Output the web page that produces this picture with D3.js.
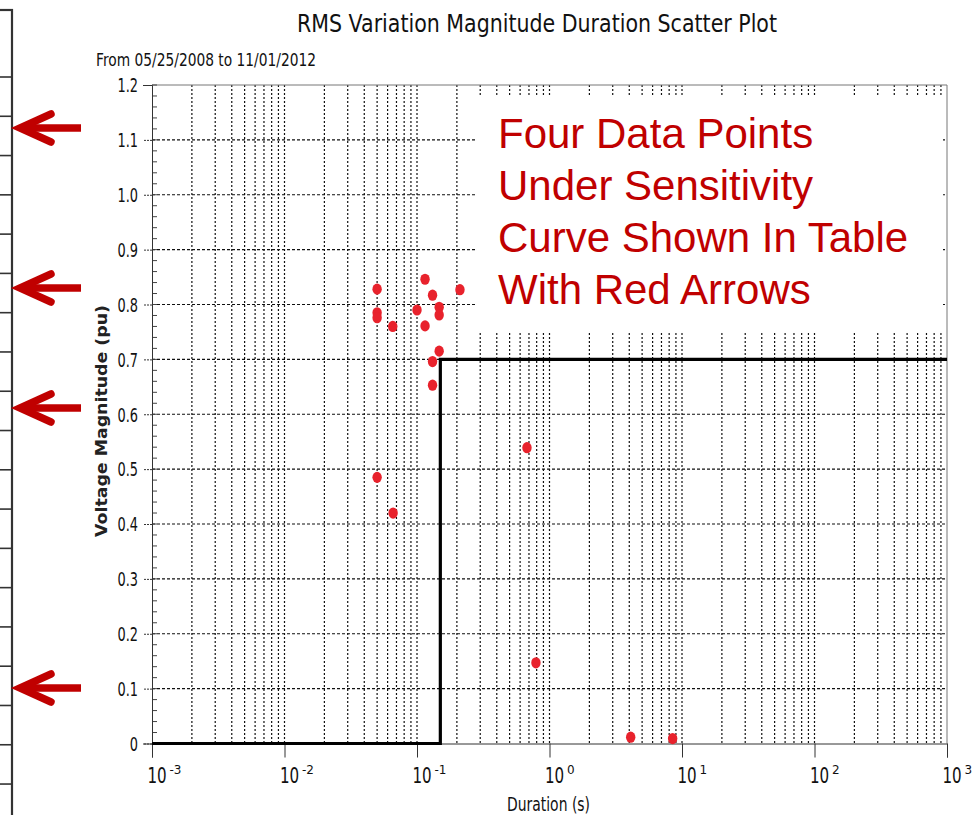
<!DOCTYPE html>
<html><head><meta charset="utf-8">
<script src="https://cdn.jsdelivr.net/npm/d3@7/dist/d3.min.js"></script>
<style>body{margin:0;background:#fff}svg{display:block}</style>
</head><body>
<svg id="c" width="979" height="815"></svg>
<script>
// ---- data ----
const durations  = [0.05, 0.115, 0.131, 0.211, 0.05, 0.05, 0.1, 0.147, 0.147, 0.0656, 0.115, 0.147, 0.131, 0.131, 0.05, 0.066, 0.676, 0.79, 4.1, 8.5];
const magnitudes = [0.828, 0.846, 0.817, 0.827, 0.785, 0.776, 0.79, 0.795, 0.781, 0.760, 0.761, 0.715, 0.696, 0.653, 0.485, 0.420, 0.539, 0.147, 0.0115, 0.009];
const curveDurations  = [0.001, 0.15, 0.15, 1000];
const curveMagnitudes = [0, 0, 0.7, 0.7];
const yTickValues = [0, 0.1, 0.2, 0.3, 0.4, 0.5, 0.6, 0.7, 0.8, 0.9, 1.0, 1.1, 1.2];
const yTickLabels = ["0", "0.1", "0.2", "0.3", "0.4", "0.5", "0.6", "0.7", "0.8", "0.9", "1.0", "1.1", "1.2"];
const xTickExponents = [-3, -2, -1, 0, 1, 2, 3];
const titleText = "RMS Variation Magnitude Duration Scatter Plot";
const subtitleText = "From 05/25/2008 to 11/01/2012";
const xLabel = "Duration (s)";
const yLabel = "Voltage Magnitude (pu)";
const noteLines = ["Four Data Points", "Under Sensitivity", "Curve Shown In Table", "With Red Arrows"];

// ---- drawing ----
const svg = d3.select("#c");
const FONT = "'DejaVu Sans', sans-serif";
const L = 152, R = 947, T = 85, B = 743.5;
const x = d3.scaleLog().domain([1e-3, 1e3]).range([L, R]);
const y = d3.scaleLinear().domain([0, 1.2]).range([B, T]);

// left table remnant
const tbl = svg.append("g").attr("stroke", "#333");
tbl.append("line").attr("x1", 12).attr("x2", 12).attr("y1", 9).attr("y2", 815).attr("stroke-width", 2.2);
tbl.append("line").attr("x1", 0).attr("x2", 13).attr("y1", 10).attr("y2", 10).attr("stroke-width", 2.2);
for (let i = 0; i < 19; i++) {
  const yy = 77 + i * 39.28;
  tbl.append("line").attr("x1", 0).attr("x2", 12).attr("y1", yy).attr("y2", yy).attr("stroke-width", 1.6);
}
// red arrows
[128, 288, 408, 688].forEach(ay => {
  const g = svg.append("g").attr("stroke", "#c00000").attr("stroke-width", 7.5).attr("fill", "none").attr("stroke-linecap", "round").attr("stroke-linejoin", "miter");
  g.append("line").attr("x1", 21).attr("x2", 81).attr("y1", ay).attr("y2", ay).attr("stroke-linecap", "butt");
  g.append("path").attr("d", `M51,${ay - 14} L20,${ay} L51,${ay + 14}`);
});

// grid
const grid = svg.append("g").attr("stroke", "#111").attr("stroke-width", 1.2).attr("stroke-dasharray", "2,2");
const gridX = [];
for (let e = -3; e < 3; e++) for (let m = 1; m <= 9; m++) { const v = m * Math.pow(10, e); if (v > 1e-3) gridX.push(v); }
grid.selectAll(".gx").data(gridX).join("line")
  .attr("x1", d => x(d)).attr("x2", d => x(d)).attr("y1", T).attr("y2", B);
grid.selectAll(".gy").data(yTickValues.filter(v => v > 0 && v < 1.2)).join("line")
  .attr("x1", L).attr("x2", R).attr("y1", d => y(d)).attr("y2", d => y(d)).attr("stroke-dasharray", "3,2");

// frame
svg.append("line").attr("x1", L).attr("x2", R).attr("y1", T).attr("y2", T).attr("stroke", "#777");
svg.append("line").attr("x1", R).attr("x2", R).attr("y1", T).attr("y2", B).attr("stroke", "#777");

// y minor ticks
const minor = d3.range(0, 1.2001, 0.02);
svg.append("g").selectAll("line").data(minor).join("line")
  .attr("x1", L).attr("x2", L + 5).attr("y1", d => y(d)).attr("y2", d => y(d)).attr("stroke", "#444");

// y axis
const yAxis = svg.append("g").attr("transform", `translate(${L},0)`)
  .call(d3.axisLeft(y).tickValues(yTickValues).tickFormat((d, i) => yTickLabels[i]).tickSize(9).tickPadding(5));
yAxis.select(".domain").attr("stroke", "#333");
yAxis.selectAll(".tick line").attr("stroke", "#333").attr("stroke-dasharray", "2,1");
yAxis.selectAll(".tick text").attr("font-family", FONT).attr("font-size", 19).attr("fill", "#111").attr("dy", "0.36em")
  .each(function () {
    const w = this.getComputedTextLength();
    const tw = w * 0.68;
    d3.select(this).attr("text-anchor", "start").attr("x", -14 - tw).attr("textLength", tw).attr("lengthAdjust", "spacingAndGlyphs");
  });

// x axis
const xAxis = svg.append("g").attr("transform", `translate(0,${B})`)
  .call(d3.axisBottom(x).tickValues(xTickExponents.map(e => Math.pow(10, e))).tickFormat("").tickSize(14));
xAxis.select(".domain").attr("stroke", "#333");
xAxis.selectAll(".tick line").attr("stroke", "#333");
xAxis.selectAll(".tick").each(function (d, i) {
  const g = d3.select(this);
  g.append("text").attr("transform", "translate(-5,39) scale(0.72,1)").attr("text-anchor", "start")
    .attr("font-family", FONT).attr("font-size", 21).attr("fill", "#111").text("10");
  const e = xTickExponents[i];
  g.append("text").attr("x", 17).attr("y", 30).attr("text-anchor", "start").attr("font-family", FONT).attr("font-size", 12).attr("fill", "#111")
    .text(e < 0 ? "-" + Math.abs(e) : String(e));
});

// sensitivity curve
svg.append("path")
  .datum(curveDurations.map((d, i) => [d, curveMagnitudes[i]]))
  .attr("d", d3.line().x(d => x(d[0])).y(d => y(d[1])))
  .attr("fill", "none").attr("stroke", "#000").attr("stroke-width", 3.2);

// points
svg.append("g").selectAll("ellipse").data(durations).join("ellipse")
  .attr("cx", d => x(d)).attr("cy", (d, i) => y(magnitudes[i]))
  .attr("rx", 4.7).attr("ry", 5.6).attr("fill", "#e8222c");

// annotation box
svg.append("rect").attr("x", 476).attr("y", 96).attr("width", 467).attr("height", 237).attr("fill", "#fff");
svg.append("g").selectAll("text").data(noteLines).join("text")
  .attr("x", 498).attr("y", (d, i) => 148 + i * 52)
  .attr("font-family", "'Liberation Sans', Arial, sans-serif").attr("font-size", 42).attr("fill", "#c00000")
  .text(d => d);

// titles
svg.append("text").attr("x", 297).attr("y", 32).attr("font-family", FONT).attr("font-size", 24).attr("fill", "#111")
  .attr("textLength", 480).attr("lengthAdjust", "spacingAndGlyphs").text(titleText);
svg.append("text").attr("x", 96).attr("y", 66).attr("font-family", FONT).attr("font-size", 18).attr("fill", "#111")
  .attr("textLength", 220).attr("lengthAdjust", "spacingAndGlyphs").text(subtitleText);
svg.append("text").attr("x", 507).attr("y", 811).attr("font-family", FONT).attr("font-size", 19).attr("fill", "#111")
  .attr("textLength", 83).attr("lengthAdjust", "spacingAndGlyphs").text(xLabel);
svg.append("text").attr("transform", "translate(107,537) rotate(-90)").attr("x", 0).attr("y", 0)
  .attr("font-family", FONT).attr("font-size", 16).attr("font-weight", 600).attr("fill", "#222")
  .attr("textLength", 232).attr("lengthAdjust", "spacingAndGlyphs").text(yLabel);
</script>
</body></html>
